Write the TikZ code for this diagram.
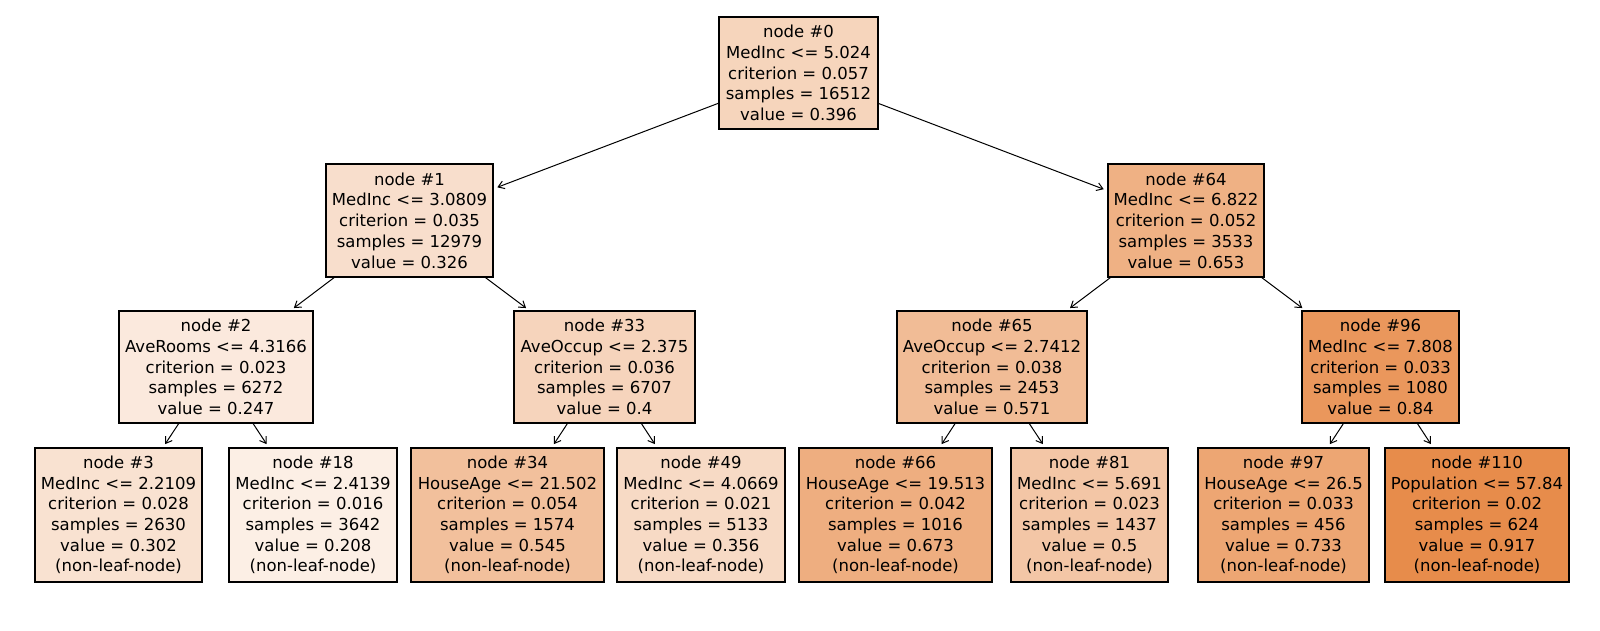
\documentclass[tikz,border=0pt]{standalone}
\usepackage{fontspec}
\setmainfont{DejaVu Sans}
\usetikzlibrary{arrows.meta}
\definecolor{c0}{RGB}{246,213,188}
\definecolor{c1}{RGB}{248,222,204}
\definecolor{c64}{RGB}{239,177,132}
\definecolor{c2}{RGB}{251,233,221}
\definecolor{c33}{RGB}{246,212,188}
\definecolor{c65}{RGB}{241,188,150}
\definecolor{c96}{RGB}{234,151,92}
\definecolor{c3}{RGB}{249,226,209}
\definecolor{c18}{RGB}{252,239,229}
\definecolor{c34}{RGB}{242,192,156}
\definecolor{c49}{RGB}{247,218,197}
\definecolor{c66}{RGB}{238,174,128}
\definecolor{c81}{RGB}{243,198,166}
\definecolor{c97}{RGB}{237,166,115}
\definecolor{c110}{RGB}{231,140,75}
\tikzset{
  tbox/.style={draw=black, line width=1.1pt, inner sep=0pt, align=center,
    font=\fontsize{16.5}{20.7}\selectfont},
  up/.style={tbox, minimum height=112pt},
  leaf/.style={tbox, minimum height=134pt},
  arr/.style={line width=1pt, -{Straight Barb[length=6pt,width=8pt]}, shorten >=4pt}
}
\begin{document}
\begin{tikzpicture}[x=1pt,y=-1pt]
\useasboundingbox[fill=white] (0,0) rectangle (1600,630);
% level 0
\node[up, fill=c0, minimum width=159pt] (n0) at (798.5,73) {node \#0\\MedInc <= 5.024\\criterion = 0.057\\samples = 16512\\value = 0.396};
% level 1
\node[up, fill=c1, minimum width=167pt, minimum height=113pt] (n1) at (409.5,220.5) {node \#1\\MedInc <= 3.0809\\criterion = 0.035\\samples = 12979\\value = 0.326};
\node[up, fill=c64, minimum width=156pt, minimum height=113pt] (n64) at (1186,220.5) {node \#64\\MedInc <= 6.822\\criterion = 0.052\\samples = 3533\\value = 0.653};
% level 2
\node[up, fill=c2, minimum width=194pt] (n2) at (216,367) {node \#2\\AveRooms <= 4.3166\\criterion = 0.023\\samples = 6272\\value = 0.247};
\node[up, fill=c33, minimum width=181pt] (n33) at (604.5,367) {node \#33\\AveOccup <= 2.375\\criterion = 0.036\\samples = 6707\\value = 0.4};
\node[up, fill=c65, minimum width=190pt] (n65) at (992,367) {node \#65\\AveOccup <= 2.7412\\criterion = 0.038\\samples = 2453\\value = 0.571};
\node[up, fill=c96, minimum width=157pt] (n96) at (1380.5,367) {node \#96\\MedInc <= 7.808\\criterion = 0.033\\samples = 1080\\value = 0.84};
% level 3
\node[leaf, fill=c3, minimum width=167pt] (n3) at (118.5,515) {node \#3\\MedInc <= 2.2109\\criterion = 0.028\\samples = 2630\\value = 0.302\\(non-leaf-node)};
\node[leaf, fill=c18, minimum width=168pt] (n18) at (313,515) {node \#18\\MedInc <= 2.4139\\criterion = 0.016\\samples = 3642\\value = 0.208\\(non-leaf-node)};
\node[leaf, fill=c34, minimum width=193pt] (n34) at (507.5,515) {node \#34\\HouseAge <= 21.502\\criterion = 0.054\\samples = 1574\\value = 0.545\\(non-leaf-node)};
\node[leaf, fill=c49, minimum width=168pt] (n49) at (701,515) {node \#49\\MedInc <= 4.0669\\criterion = 0.021\\samples = 5133\\value = 0.356\\(non-leaf-node)};
\node[leaf, fill=c66, minimum width=193pt] (n66) at (895.5,515) {node \#66\\HouseAge <= 19.513\\criterion = 0.042\\samples = 1016\\value = 0.673\\(non-leaf-node)};
\node[leaf, fill=c81, minimum width=157pt] (n81) at (1089.5,515) {node \#81\\MedInc <= 5.691\\criterion = 0.023\\samples = 1437\\value = 0.5\\(non-leaf-node)};
\node[leaf, fill=c97, minimum width=171pt] (n97) at (1283.5,515) {node \#97\\HouseAge <= 26.5\\criterion = 0.033\\samples = 456\\value = 0.733\\(non-leaf-node)};
\node[leaf, fill=c110, minimum width=184pt] (n110) at (1477,515) {node \#110\\Population <= 57.84\\criterion = 0.02\\samples = 624\\value = 0.917\\(non-leaf-node)};
% connectors
\draw[arr] (n0) -- (n1);
\draw[arr] (n0) -- (n64);
\draw[arr] (n1) -- (n2);
\draw[arr] (n1) -- (n33);
\draw[arr] (n64) -- (n65);
\draw[arr] (n64) -- (n96);
\draw[arr] (n2) -- (n3);
\draw[arr] (n2) -- (n18);
\draw[arr] (n33) -- (n34);
\draw[arr] (n33) -- (n49);
\draw[arr] (n65) -- (n66);
\draw[arr] (n65) -- (n81);
\draw[arr] (n96) -- (n97);
\draw[arr] (n96) -- (n110);
\end{tikzpicture}
\end{document}
